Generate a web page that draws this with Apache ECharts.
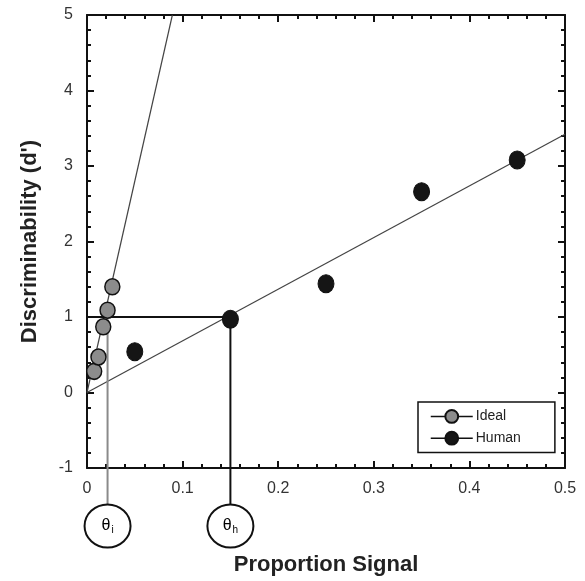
<!DOCTYPE html>
<html lang="en">
<head>
    <meta charset="UTF-8">
    <title>Discriminability</title>
    <style>
        *{
            margin: 0;
            padding: 0;
        }
        html ,body{
            height:100%;
            width:100%;
            background: #fff;
        }
        #chart{
            width: 585px;
            height: 581px;
        }
    </style>
</head>
<body>
<div id="chart"></div>
<script src="https://cdn.jsdelivr.net/npm/echarts@6/dist/echarts.min.js"></script>
<script>
    // data
    var idealX = [0.0075, 0.012, 0.017, 0.0215, 0.0265];
    var idealY = [0.28, 0.47, 0.87, 1.09, 1.40];
    var humanX = [0.05, 0.15, 0.25, 0.35, 0.45];
    var humanY = [0.54, 0.97, 1.44, 2.66, 3.08];
    var idealFit = [[0, 0], [0.0893, 5]];
    var humanFit = [[0, 0], [0.5, 3.42]];
    var criterion = 1;          // d' = 1
    var thetaIdeal = 0.0215;
    var thetaHuman = 0.15;

    function pairs(xs, ys) {
        var out = [];
        for (var i = 0; i < xs.length; i++) {
            out.push([xs[i], ys[i]]);
        }
        return out;
    }

    var chart = echarts.init(document.getElementById('chart'));
    var font = '"Liberation Sans", Arial, sans-serif';

    var tickStyle = {
        axisLine: {show: true, onZero: false, lineStyle: {color: '#111', width: 2}},
        axisTick: {show: true, inside: true, length: 7, lineStyle: {color: '#111', width: 2}},
        minorTick: {show: true, splitNumber: 5, length: 4, lineStyle: {color: '#111', width: 2}},
        splitLine: {show: false}
    };

    var option = {
        animation: false,
        backgroundColor: '#fff',
        grid: {left: 87, right: 20, top: 15, bottom: 112},
        legend: {
            orient: 'vertical',
            left: 418,
            top: 402,
            padding: [7, 34, 7, 12],
            itemGap: 7,
            itemWidth: 42,
            itemHeight: 16,
            borderColor: '#111',
            borderWidth: 1.5,
            textStyle: {fontFamily: font, fontSize: 14, color: '#222', padding: [0, 0, 0, -2]},
            data: [
                {name: 'Ideal', lineStyle: {color: '#111', width: 1.5, opacity: 1}},
                {name: 'Human', lineStyle: {color: '#111', width: 1.5, opacity: 1}}
            ]
        },
        xAxis: [
            Object.assign({
                type: 'value', min: 0, max: 0.5, interval: 0.1,
                name: 'Proportion Signal', nameLocation: 'middle', nameGap: 86,
                nameTextStyle: {fontFamily: font, fontSize: 22, fontWeight: 'bold', color: '#222'},
                axisLabel: {fontFamily: font, fontSize: 16, color: '#333', margin: 13}
            }, tickStyle),
            Object.assign({
                type: 'value', min: 0, max: 0.5, interval: 0.1, position: 'top',
                axisLabel: {show: false}
            }, tickStyle)
        ],
        yAxis: [
            Object.assign({
                type: 'value', min: -1, max: 5, interval: 1,
                name: "Discriminability (d')", nameLocation: 'middle', nameGap: 46,
                nameTextStyle: {fontFamily: font, fontSize: 22, fontWeight: 'bold', color: '#222'},
                axisLabel: {fontFamily: font, fontSize: 16, color: '#333', margin: 14}
            }, tickStyle),
            Object.assign({
                type: 'value', min: -1, max: 5, interval: 1, position: 'right',
                axisLabel: {show: false}
            }, tickStyle)
        ],
        series: [
            {
                type: 'line', data: idealFit, symbol: 'none', silent: true,
                lineStyle: {color: '#444', width: 1.2}
            },
            {
                type: 'line', data: humanFit, symbol: 'none', silent: true,
                lineStyle: {color: '#444', width: 1.2}
            },
            {
                type: 'line', symbol: 'none', silent: true,
                data: [[0, criterion], [thetaHuman, criterion]],
                lineStyle: {color: '#111', width: 2}
            },
            {
                type: 'line', symbol: 'none', silent: true,
                data: [[thetaHuman, criterion], [thetaHuman, -1]],
                lineStyle: {color: '#111', width: 2}
            },
            {
                type: 'line', symbol: 'none', silent: true,
                data: [[thetaIdeal, criterion], [thetaIdeal, -1]],
                lineStyle: {color: '#8a8a8a', width: 2}
            },
            {
                name: 'Ideal', type: 'line', data: pairs(idealX, idealY),
                symbol: 'circle', symbolSize: [15, 16],
                lineStyle: {width: 0, opacity: 0},
                itemStyle: {color: '#8c8c8c', borderColor: '#111', borderWidth: 1.5}
            },
            {
                name: 'Human', type: 'line', data: pairs(humanX, humanY),
                symbol: 'circle', symbolSize: [16, 18],
                lineStyle: {width: 0, opacity: 0},
                itemStyle: {color: '#151515', borderColor: '#111', borderWidth: 1}
            }
        ]
    };
    chart.setOption(option);

    // threshold markers hanging below the x axis
    function marker(xVal, sub, color) {
        var px = chart.convertToPixel({xAxisIndex: 0}, xVal);
        var bottom = chart.convertToPixel({yAxisIndex: 0}, -1);
        var cy = bottom + 58;
        return [
            {
                type: 'line', z: 5,
                shape: {x1: px, y1: bottom, x2: px, y2: cy - 22},
                style: {stroke: color, lineWidth: 2}
            },
            {
                type: 'ellipse', z: 5,
                shape: {cx: px, cy: cy, rx: 23, ry: 21.5},
                style: {fill: '#fff', stroke: '#111', lineWidth: 2}
            },
            {
                type: 'text', z: 6, x: px, y: cy,
                style: {
                    text: '{a|θ}{b|' + sub + '}',
                    align: 'center', verticalAlign: 'middle',
                    rich: {
                        a: {fontFamily: font, fontSize: 16, color: '#222'},
                        b: {fontFamily: font, fontSize: 10, color: '#222', padding: [9, 0, 0, 1]}
                    }
                }
            }
        ];
    }
    chart.setOption({
        graphic: marker(thetaIdeal, 'i', '#8a8a8a').concat(marker(thetaHuman, 'h', '#111'))
    });
</script>
</body>
</html>
